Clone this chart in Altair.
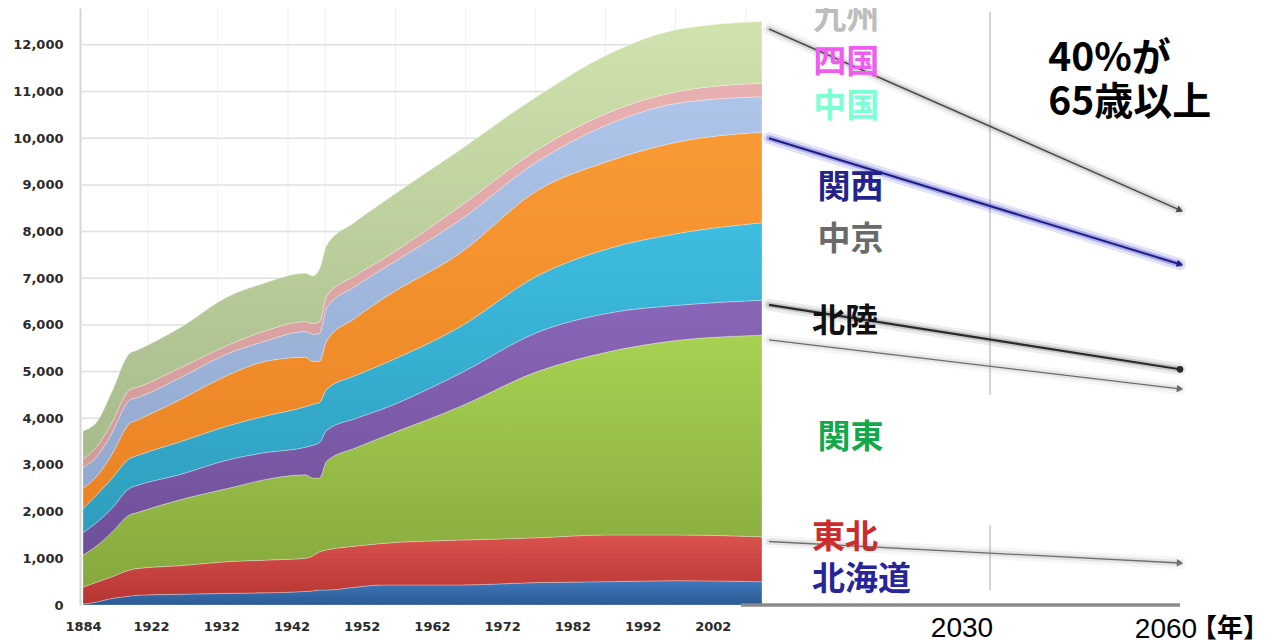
import altair as alt
import pandas as pd

# ---------------- data (units: 10,000 people) ----------------
regions = ["北海道", "東北", "関東", "北陸", "中京", "関西", "中国", "四国", "九州"]
# (top colour, bottom colour) of each band's shading
area_colors = [("#3f78bd", "#2b5a92"), ("#d9524e", "#b53431"), ("#a8d152", "#86a83d"),
               ("#8a66b8", "#6e4f98"), ("#3dbde0", "#2e9dbd"), ("#f99a35", "#ea8324"),
               ("#aec5ea", "#92a8ce"), ("#e8b0b0", "#d39a9a"), ("#d0e3ad", "#a6ba8b")]

years = [1884, 1894, 1903, 1915, 1920, 1926, 1933, 1938, 1944, 1945, 1946,
         1947, 1951, 1955, 1966, 1977, 1987, 1997, 2009]

hokkaido = [20, 70, 140, 190, 210, 230, 250, 260, 290, 300, 320, 320, 380, 430, 430, 480, 500, 520, 500]
tohoku = [360, 430, 460, 560, 570, 610, 680, 700, 710, 750, 820, 860, 880, 890, 960, 960, 1000, 980, 960]
kanto = [690, 790, 950, 1180, 1200, 1410, 1570, 1720, 1790, 1670, 1580, 1900, 2100, 2280, 2860, 3560, 3920, 4170, 4320]
hokuriku = [480, 500, 510, 570, 580, 540, 610, 580, 590, 700, 760, 660, 630, 600, 710, 840, 830, 750, 750]
chukyo = [520, 600, 640, 640, 640, 700, 730, 780, 870, 880, 860, 880, 920, 960, 1000, 1210, 1380, 1540, 1660]
kansai = [430, 400, 510, 750, 760, 900, 1090, 1170, 1060, 920, 880, 1040, 1230, 1400, 1580, 1830, 1870, 1960, 1940]
chugoku = [450, 420, 460, 500, 480, 470, 460, 430, 550, 580, 600, 710, 680, 640, 710, 620, 790, 830, 760]
shikoku = [170, 220, 220, 220, 220, 210, 180, 220, 210, 230, 250, 250, 230, 210, 290, 250, 250, 250, 290]
kyushu = [610, 530, 660, 780, 800, 860, 1040, 1030, 1040, 1020, 1130, 1080, 1150, 1220, 1210, 1150, 1250, 1330, 1320]
series = [hokkaido, tohoku, kanto, hokuriku, chukyo, kansai, chugoku, shikoku, kyushu]

x_tick_years = [1884, 1922, 1932, 1942, 1952, 1962, 1972, 1982, 1992, 2002]
y_tick_values = [0, 1000, 2000, 3000, 4000, 5000, 6000, 7000, 8000, 9000, 10000, 11000, 12000]
grid_values = [1000, 2000, 3000, 4000, 5000, 6000, 7000, 8000, 9000, 10000, 11000, 12000]
vgrid_years = [1921.6, 1931.5, 1941.5, 1946.8, 1956.8, 1966.8, 1976.7, 1986.7, 1996.7, 2006.7]

# projection arrows (2010 -> 2060)
arrow_start_year = 2010
arrow_end_year = 2060
arrow_start = [12340, 10000, 6430, 5680, 1360]
arrow_end = [8460, 7300, 5050, 4630, 900]

# region labels on the right
label_text = ["九州", "四国", "中国", "関西", "中京", "北陸", "関東", "東北", "北海道"]
label_year = [2014, 2014, 2014, 2014.4, 2014.4, 2013.9, 2014.4, 2013.9, 2013.9]
label_value = [12560, 11620, 10670, 8930, 7810, 6060, 3580, 1440, 540]
label_colors = ["#bdbdbd", "#f05cf0", "#7dffd6", "#23238c", "#6a6a6a",
                "#111111", "#12a84c", "#cc2b2b", "#26269a"]

note_text = ["40%が", "65歳以上"]
note_year = [2039.2, 2039.2]
note_value = [11700, 10760]

# 2030 marker line segments, bottom base line
marker_year = 2030
marker_segments = [(12710, 4500), (1710, 320)]
base_line = (2006, 2060, 0)

# ---------------- scales & axes ----------------
xscale = alt.Scale(domain=[1882, 1920, 2010, 2030, 2060, 2075],
                   range=[0, 57, 689, 910, 1100, 1194], zero=False, nice=False)
yscale = alt.Scale(domain=[0, 12790], zero=False, nice=False)

NUM_FONT = "DejaVu Sans"
CJK = "Noto Sans CJK JP"

xaxis = alt.Axis(values=x_tick_years, format="d", ticks=False, domain=False, grid=False,
                 labelFont=NUM_FONT, labelFontSize=13, labelFontWeight="bold",
                 labelColor="#2a2a2a", labelPadding=15, labelOverlap=False,
                 labelBound=False, labelFlush=False, title=None)
yaxis = alt.Axis(values=y_tick_values, format=",.0f", ticks=False, domain=True,
                 domainColor="#d6d6d6", domainWidth=2, grid=False,
                 labelFont=NUM_FONT, labelFontSize=13, labelFontWeight="bold",
                 labelColor="#2a2a2a", labelPadding=17, title=None)


def X(field):
    return alt.X(field, scale=xscale, axis=xaxis, title=None)


def Y(field, **kw):
    return alt.Y(field, scale=yscale, axis=yaxis, title=None, **kw)


# stacked bands: one layer per region (lower and upper edge of each band)
band_layers = []
lower = [0] * len(years)
for name, vals, (c_top, c_bot) in zip(regions, series, area_colors):
    upper = [a + b for a, b in zip(lower, vals)]
    df = pd.DataFrame({"year": years, "lo": lower, "hi": upper, "region": name})
    band_layers.append(
        alt.Chart(df).mark_area(
            interpolate="monotone",
            color=alt.Gradient(gradient="linear",
                               stops=[alt.GradientStop(color=c_top, offset=0),
                                      alt.GradientStop(color=c_bot, offset=1)],
                               x1=0, x2=0, y1=0, y2=1),
            stroke="#ffffff", strokeWidth=0.7, strokeOpacity=0.4,
        ).encode(x=X("year:Q"), y=Y("hi:Q"), y2="lo:Q")
    )
    lower = upper

hgrid = alt.Chart(pd.DataFrame({"v": grid_values, "x0": 1882, "x1": years[-1]})).mark_rule(
    color="#e0e0e0", strokeWidth=1.5
).encode(x=X("x0:Q"), x2="x1:Q", y=Y("v:Q"))

vgrid = alt.Chart(pd.DataFrame({"yr": vgrid_years, "y0": 0, "y1": 12790})).mark_rule(
    color="#efefef", strokeWidth=1
).encode(x=X("yr:Q"), y=Y("y0:Q"), y2="y1:Q")

marker = alt.Chart(pd.DataFrame({
    "yr": [marker_year] * len(marker_segments),
    "a": [s[0] for s in marker_segments],
    "b": [s[1] for s in marker_segments],
})).mark_rule(color="#c6c6c6", strokeWidth=1.5).encode(x=X("yr:Q"), y=Y("a:Q"), y2="b:Q")

base = alt.Chart(pd.DataFrame({"x0": [base_line[0]], "x1": [base_line[1]], "v": [base_line[2]]})).mark_rule(
    color="#8a8a8a", strokeWidth=3.5
).encode(x=X("x0:Q"), x2="x1:Q", y=Y("v:Q"))

# arrows
arrow_styles = [
    dict(color="#4a4a4a", width=1.6, glow="#7a7a7a", gop=0.22, head="triangle-right", angle=23.8),
    dict(color="#1e1e86", width=2.0, glow="#5a5ad0", gop=0.4, head="triangle-right", angle=17.0),
    dict(color="#2a2a2a", width=2.2, glow="#6a6a6a", gop=0.28, head="circle", angle=0),
    dict(color="#6a6a6a", width=1.2, glow="#a0a0a0", gop=0.18, head="triangle-right", angle=6.8),
    dict(color="#6e6e6e", width=1.3, glow="#9a9a9a", gop=0.2, head="triangle-right", angle=3.0),
]
arrow_layers = []
for s0, s1, st in zip(arrow_start, arrow_end, arrow_styles):
    df = pd.DataFrame({"x0": [arrow_start_year], "x1": [arrow_end_year], "a": [s0], "b": [s1]})
    enc = dict(x=X("x0:Q"), x2="x1:Q", y=Y("a:Q"), y2="b:Q")
    arrow_layers.append(alt.Chart(df).mark_rule(color=st["glow"], strokeWidth=12, opacity=st["gop"] * 0.45,
                                                strokeCap="round").encode(**enc))
    arrow_layers.append(alt.Chart(df).mark_rule(color=st["glow"], strokeWidth=6, opacity=st["gop"],
                                                strokeCap="round").encode(**enc))
    arrow_layers.append(alt.Chart(df).mark_rule(color=st["color"], strokeWidth=st["width"]).encode(**enc))
    arrow_layers.append(alt.Chart(df).mark_point(
        shape=st["head"], filled=True, color=st["color"], opacity=1,
        size=55 if st["head"] != "circle" else 45, angle=st["angle"]
    ).encode(x=X("x1:Q"), y=Y("b:Q")))

labels = alt.Chart(pd.DataFrame({"t": label_text, "yr": label_year, "v": label_value, "c": label_colors})).mark_text(
    font=CJK, fontSize=33, fontWeight="bold", align="left", baseline="middle"
).encode(
    x=X("yr:Q"), y=Y("v:Q"), text="t:N",
    color=alt.Color("c:N", scale=None),
)

notes = alt.Chart(pd.DataFrame({"t": note_text, "yr": note_year, "v": note_value})).mark_text(
    font=CJK, fontSize=39, fontWeight="bold", align="left", baseline="middle", color="#000000"
).encode(x=X("yr:Q"), y=Y("v:Q"), text="t:N")

# projection axis labels
lab2030 = alt.Chart(pd.DataFrame({"yr": [2030], "t": ["2030"], "v": [-675]})).mark_text(
    font="Liberation Sans", fontSize=28, align="center", baseline="alphabetic", color="#000000", dx=-28
).encode(x=X("yr:Q"), y=Y("v:Q"), text="t:N")
lab2060 = alt.Chart(pd.DataFrame({"yr": [2060], "t": ["2060"], "v": [-700]})).mark_text(
    font="Liberation Sans", fontSize=28, align="center", baseline="alphabetic", color="#000000", dx=-14
).encode(x=X("yr:Q"), y=Y("v:Q"), text="t:N")
nen = alt.Chart(pd.DataFrame({"yr": [2060], "t": ["【年】"], "v": [-690]})).mark_text(
    font=CJK, fontSize=26, fontWeight="bold", align="center", baseline="alphabetic", color="#000000", dx=50
).encode(x=X("yr:Q"), y=Y("v:Q"), text="t:N")

chart = alt.layer(
    vgrid, hgrid, *band_layers, base, marker, *arrow_layers, labels, notes, lab2030, lab2060, nen
).properties(
    width=1194, height=597,
    autosize=alt.AutoSizeParams(type="none"),
    padding={"left": 72, "top": 0, "right": 0, "bottom": 38},
    background="#ffffff",
).configure_view(stroke=None)

chart.save("out.html", embed_options={"renderer": "svg", "actions": False})
